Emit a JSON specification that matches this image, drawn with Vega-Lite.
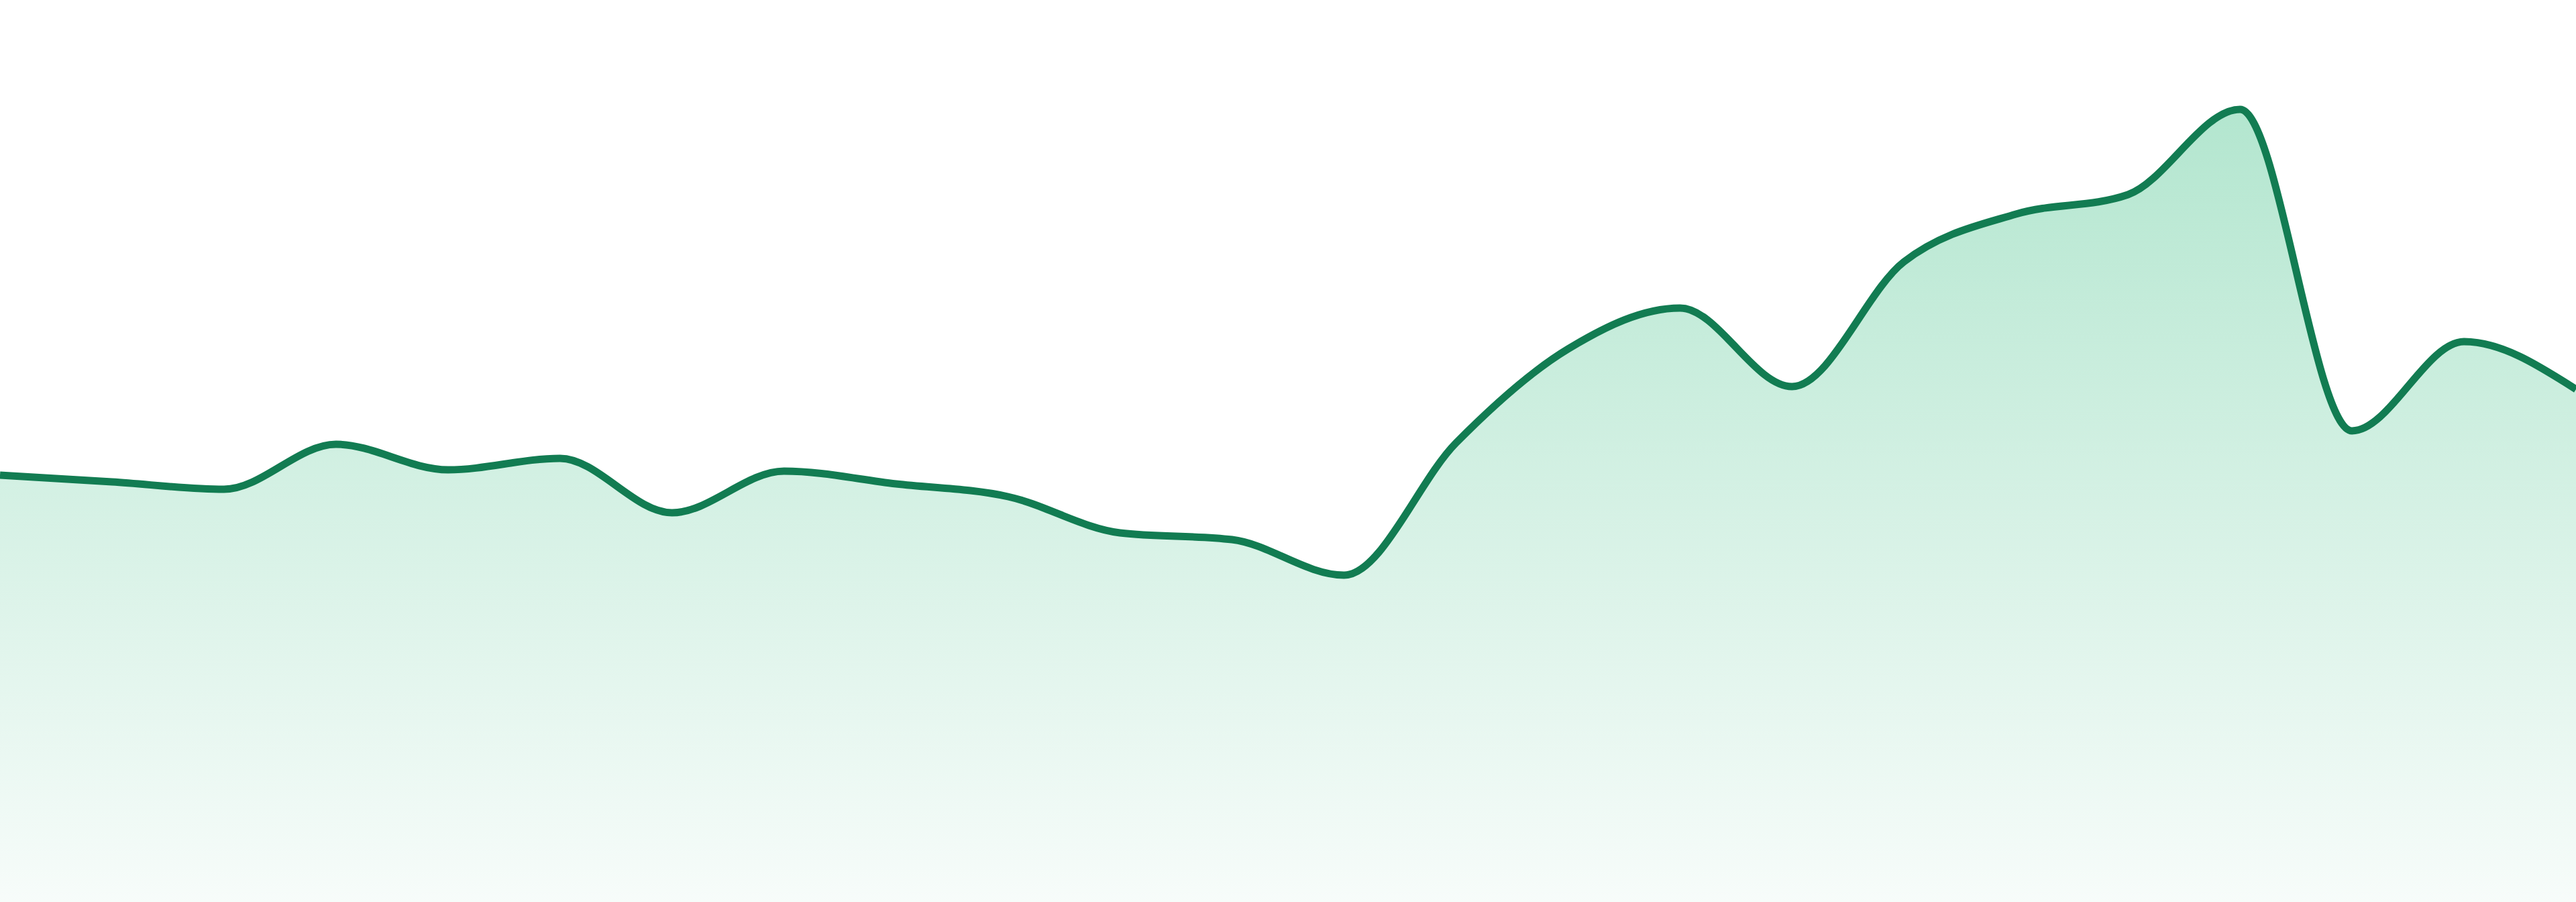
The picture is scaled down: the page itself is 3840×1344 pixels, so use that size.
{
  "$schema": "https://vega.github.io/schema/vega-lite/v6.json",
  "width": 3840,
  "height": 1344,
  "autosize": {"type": "fit", "contains": "padding"},
  "padding": 0,
  "background": "white",
  "config": {"view": {"stroke": null}},
  "data": {
    "values": [
      {"i": 0, "v": 636},
      {"i": 1, "v": 626},
      {"i": 2, "v": 615},
      {"i": 3, "v": 682},
      {"i": 4, "v": 644},
      {"i": 5, "v": 661},
      {"i": 6, "v": 580},
      {"i": 7, "v": 642},
      {"i": 8, "v": 623},
      {"i": 9, "v": 604},
      {"i": 10, "v": 550},
      {"i": 11, "v": 540},
      {"i": 12, "v": 487},
      {"i": 13, "v": 684},
      {"i": 14, "v": 824},
      {"i": 15, "v": 885},
      {"i": 16, "v": 768},
      {"i": 17, "v": 954},
      {"i": 18, "v": 1025},
      {"i": 19, "v": 1054},
      {"i": 20, "v": 1181},
      {"i": 21, "v": 702},
      {"i": 22, "v": 835},
      {"i": 23, "v": 764}
    ]
  },
  "encoding": {
    "x": {
      "field": "i",
      "type": "quantitative",
      "scale": {"domain": [0, 23], "nice": false, "zero": false},
      "axis": null
    },
    "y": {
      "field": "v",
      "type": "quantitative",
      "scale": {"domain": [0, 1344], "nice": false},
      "axis": null
    }
  },
  "layer": [
    {
      "mark": {
        "type": "area",
        "interpolate": "monotone",
        "clip": true,
        "color": {
          "gradient": "linear",
          "x1": 0, "y1": 0, "x2": 0, "y2": 1,
          "stops": [
            {"offset": 0, "color": "#b3e6cf"},
            {"offset": 1, "color": "#f7fcfa"}
          ]
        }
      }
    },
    {
      "mark": {
        "type": "line",
        "interpolate": "monotone",
        "clip": true,
        "color": "#127c52",
        "strokeWidth": 11
      }
    }
  ]
}
